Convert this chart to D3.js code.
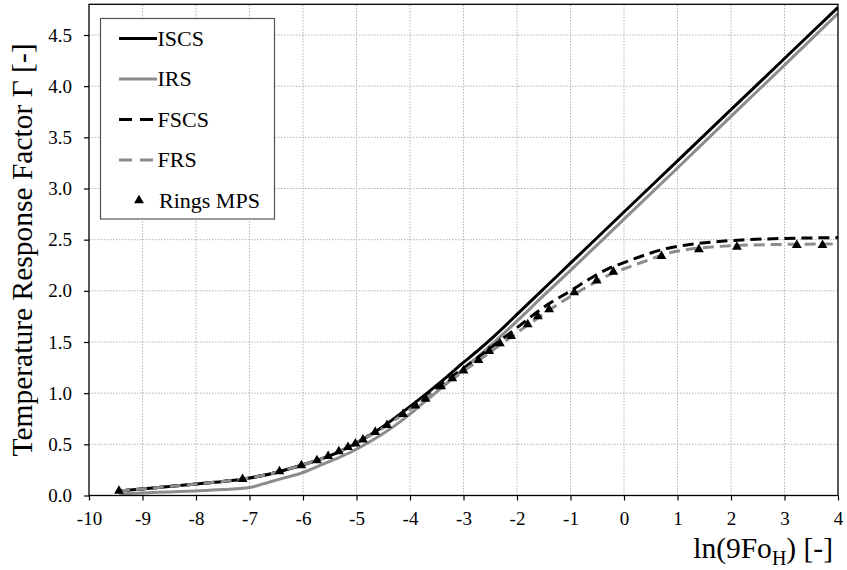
<!DOCTYPE html>
<html>
<head>
<meta charset="utf-8">
<script src="https://cdn.jsdelivr.net/npm/d3@7"></script>
<style>
  html, body { margin: 0; padding: 0; background: #fff; }
  svg { display: block; }
  svg text { font-family: "Liberation Serif", "Times New Roman", serif; }
</style>
</head>
<body>
<svg id="chart" width="847" height="570"></svg>
<script>
// Axis ticks
const xTicks = [-10, -9, -8, -7, -6, -5, -4, -3, -2, -1, 0, 1, 2, 3, 4];
const yTicks = [0, 0.5, 1, 1.5, 2, 2.5, 3, 3.5, 4, 4.5];

// ISCS – infinite spiral coil source
const iscsX = [-9.44, -8.5, -8.0, -7.5, -7.1, -6.8, -6.4, -6.0, -5.7, -5.4, -5.1, -4.8, -4.5, -4.2, -3.9, -3.6, -3.3, -3.0, -2.7, -2.4, -2.0, -1.5, -1.0, 0, 1, 2, 3, 4];
const iscsY = [0.045, 0.088, 0.112, 0.137, 0.162, 0.19, 0.24, 0.3, 0.35, 0.41, 0.485, 0.575, 0.675, 0.79, 0.91, 1.035, 1.165, 1.3, 1.43, 1.57, 1.77, 2.02, 2.27, 2.77, 3.27, 3.77, 4.27, 4.77];

// IRS – infinite ring source
const irsX = [-9.44, -9.0, -8.5, -8.0, -7.5, -7.0, -6.7, -6.4, -6.0, -5.7, -5.4, -5.1, -4.8, -4.5, -4.2, -3.9, -3.6, -3.3, -3.0, -2.7, -2.4, -2.0, -1.5, -1.0, 0, 1, 2, 3, 4];
const irsY = [0.015, 0.025, 0.035, 0.045, 0.058, 0.078, 0.12, 0.165, 0.225, 0.29, 0.355, 0.425, 0.51, 0.605, 0.715, 0.84, 0.97, 1.1, 1.24, 1.37, 1.51, 1.705, 1.955, 2.2, 2.7, 3.2, 3.705, 4.205, 4.71];

// FSCS – finite spiral coil source
const fscsX = [-9.44, -8.5, -8.0, -7.5, -7.1, -6.8, -6.4, -6.0, -5.7, -5.4, -5.1, -4.8, -4.5, -4.2, -3.9, -3.6, -3.3, -3.0, -2.7, -2.4, -2.0, -1.5, -1.0, -0.6, -0.3, 0.1, 0.5, 0.8, 1.2, 1.67, 2.2, 3.0, 4];
const fscsY = [0.045, 0.088, 0.112, 0.137, 0.162, 0.19, 0.24, 0.3, 0.35, 0.41, 0.485, 0.575, 0.67, 0.78, 0.895, 1.01, 1.13, 1.245, 1.36, 1.48, 1.64, 1.84, 2.0, 2.13, 2.215, 2.295, 2.37, 2.414, 2.45, 2.478, 2.497, 2.512, 2.52];

// FRS – finite ring source
const frsX = [-9.44, -8.5, -8.0, -7.5, -7.1, -6.8, -6.4, -6.0, -5.7, -5.4, -5.1, -4.8, -4.5, -4.2, -3.9, -3.6, -3.3, -3.0, -2.7, -2.4, -2.0, -1.5, -1.0, -0.6, -0.3, 0.1, 0.5, 0.8, 1.2, 1.67, 2.2, 3.0, 4];
const frsY = [0.045, 0.088, 0.112, 0.137, 0.162, 0.19, 0.24, 0.3, 0.35, 0.41, 0.485, 0.572, 0.66, 0.77, 0.88, 0.99, 1.1, 1.215, 1.325, 1.44, 1.59, 1.775, 1.945, 2.065, 2.15, 2.234, 2.31, 2.365, 2.405, 2.43, 2.445, 2.454, 2.458];

// Rings MPS – simulation results
const ringsX = [-9.44, -7.13, -6.44, -6.03, -5.74, -5.53, -5.33, -5.16, -5.02, -4.88, -4.65, -4.43, -4.13, -3.90, -3.71, -3.42, -3.21, -3.00, -2.72, -2.52, -2.32, -2.11, -1.80, -1.61, -1.40, -0.93, -0.51, -0.20, 0.70, 1.40, 2.11, 3.23, 3.71];
const ringsY = [0.045, 0.16, 0.235, 0.293, 0.343, 0.385, 0.43, 0.472, 0.507, 0.545, 0.62, 0.688, 0.795, 0.878, 0.945, 1.065, 1.145, 1.22, 1.323, 1.41, 1.486, 1.558, 1.672, 1.75, 1.818, 1.985, 2.1, 2.186, 2.339, 2.404, 2.43, 2.446, 2.446];

const SERIF = "'Liberation Serif', 'Times New Roman', serif";
const BLACK = "#000000";
const GREY = "#8c8c8c";

const series = [
  { name: "ISCS", xs: iscsX, ys: iscsY, color: BLACK, dash: null },
  { name: "IRS",  xs: irsX,  ys: irsY,  color: GREY,  dash: null },
  { name: "FSCS", xs: fscsX, ys: fscsY, color: BLACK, dash: "11,6" },
  { name: "FRS",  xs: frsX,  ys: frsY,  color: GREY,  dash: "11,6" }
];

const svg = d3.select("#chart").attr("font-family", SERIF);
const x = d3.scaleLinear().domain([-10, 4]).range([89, 838]);
const y = d3.scaleLinear().domain([0, 4.8]).range([495.5, 4.3]);

// dotted grid
const grid = svg.append("g");
grid.selectAll("line.v").data(xTicks.slice(1, -1)).join("line")
  .attr("x1", d => x(d)).attr("x2", d => x(d))
  .attr("y1", y(0)).attr("y2", y(4.8))
  .attr("stroke", "#b4b4b4").attr("stroke-width", 1).attr("stroke-dasharray", "1.5,1.5");
grid.selectAll("line.h").data(yTicks.slice(1)).join("line")
  .attr("x1", x(-10)).attr("x2", x(4))
  .attr("y1", d => y(d)).attr("y2", d => y(d))
  .attr("stroke", "#b4b4b4").attr("stroke-width", 1).attr("stroke-dasharray", "1.5,1.5");

// clip to plot area
svg.append("clipPath").attr("id", "plot-clip").append("rect")
  .attr("x", x(-10)).attr("y", y(4.8))
  .attr("width", x(4) - x(-10)).attr("height", y(0) - y(4.8));

const line = d3.line().x(d => x(d[0])).y(d => y(d[1])).curve(d3.curveMonotoneX);
const plot = svg.append("g").attr("clip-path", "url(#plot-clip)");

series.forEach(s => {
  plot.append("path")
    .datum(s.xs.map((v, i) => [v, s.ys[i]]))
    .attr("d", line)
    .attr("fill", "none")
    .attr("stroke", s.color)
    .attr("stroke-width", 3)
    .attr("stroke-dasharray", s.dash);
});

const tri = d3.symbol().type(d3.symbolTriangle).size(42);
plot.selectAll("path.ring").data(ringsX.map((v, i) => [v, ringsY[i]])).join("path")
  .attr("class", "ring")
  .attr("d", tri)
  .attr("transform", d => `translate(${x(d[0])},${y(d[1])})`)
  .attr("fill", BLACK);

// axes
const xAxis = d3.axisBottom(x).tickValues(xTicks).tickSize(5).tickPadding(11).tickFormat(d => String(d));
const yAxis = d3.axisLeft(y).tickValues(yTicks).tickSize(5).tickPadding(12).tickFormat(d3.format(".1f"));

const gx = svg.append("g").attr("transform", `translate(0,${y(0)})`).call(xAxis);
const gy = svg.append("g").attr("transform", `translate(${x(-10)},0)`).call(yAxis);
[gx, gy].forEach(g => {
  g.attr("font-family", SERIF).attr("font-size", 19);
  g.select(".domain").remove();
  g.selectAll(".tick line").attr("stroke", "#000").attr("stroke-width", 1.2);
  g.selectAll(".tick text").attr("fill", "#000");
});

// plot frame
svg.append("rect")
  .attr("x", x(-10)).attr("y", y(4.8))
  .attr("width", x(4) - x(-10)).attr("height", y(0) - y(4.8))
  .attr("fill", "none").attr("stroke", "#000").attr("stroke-width", 1.3);

// axis titles
svg.append("text")
  .attr("transform", `translate(32,250) rotate(-90)`)
  .attr("text-anchor", "middle")
  .attr("font-size", 29.5)
  .attr("fill", "#000")
  .text("Temperature Response Factor Γ [-]");

const xt = svg.append("text")
  .attr("x", 833).attr("y", 558)
  .attr("text-anchor", "end")
  .attr("font-size", 29.5)
  .attr("fill", "#000");
xt.append("tspan").text("ln(9Fo");
xt.append("tspan").attr("dy", 7).attr("font-size", 20).text("H");
xt.append("tspan").attr("dy", -7).text(") [-]");

// legend
const lg = svg.append("g");
lg.append("rect")
  .attr("x", 100.5).attr("y", 18.5).attr("width", 174).attr("height", 200.5)
  .attr("fill", "#fff").attr("stroke", "#555").attr("stroke-width", 1.2);

const legendRows = [
  { name: "ISCS", color: BLACK, dash: null, marker: false },
  { name: "IRS", color: GREY, dash: null, marker: false },
  { name: "FSCS", color: BLACK, dash: "13,8", marker: false },
  { name: "FRS", color: GREY, dash: "13,8", marker: false },
  { name: "Rings MPS", color: BLACK, dash: null, marker: true }
];
legendRows.forEach((r, i) => {
  const cy = 38.5 + i * 40.5;
  if (r.marker) {
    lg.append("path").attr("d", tri).attr("transform", `translate(139,${cy})`).attr("fill", BLACK);
  } else {
    lg.append("line")
      .attr("x1", 119).attr("x2", 157).attr("y1", cy).attr("y2", cy)
      .attr("stroke", r.color).attr("stroke-width", 3).attr("stroke-dasharray", r.dash);
  }
  lg.append("text")
    .attr("x", r.marker ? 159 : 157.5).attr("y", cy).attr("dy", "0.33em")
    .attr("font-size", 22).attr("fill", "#000")
    .text(r.name);
});
</script>
</body>
</html>
